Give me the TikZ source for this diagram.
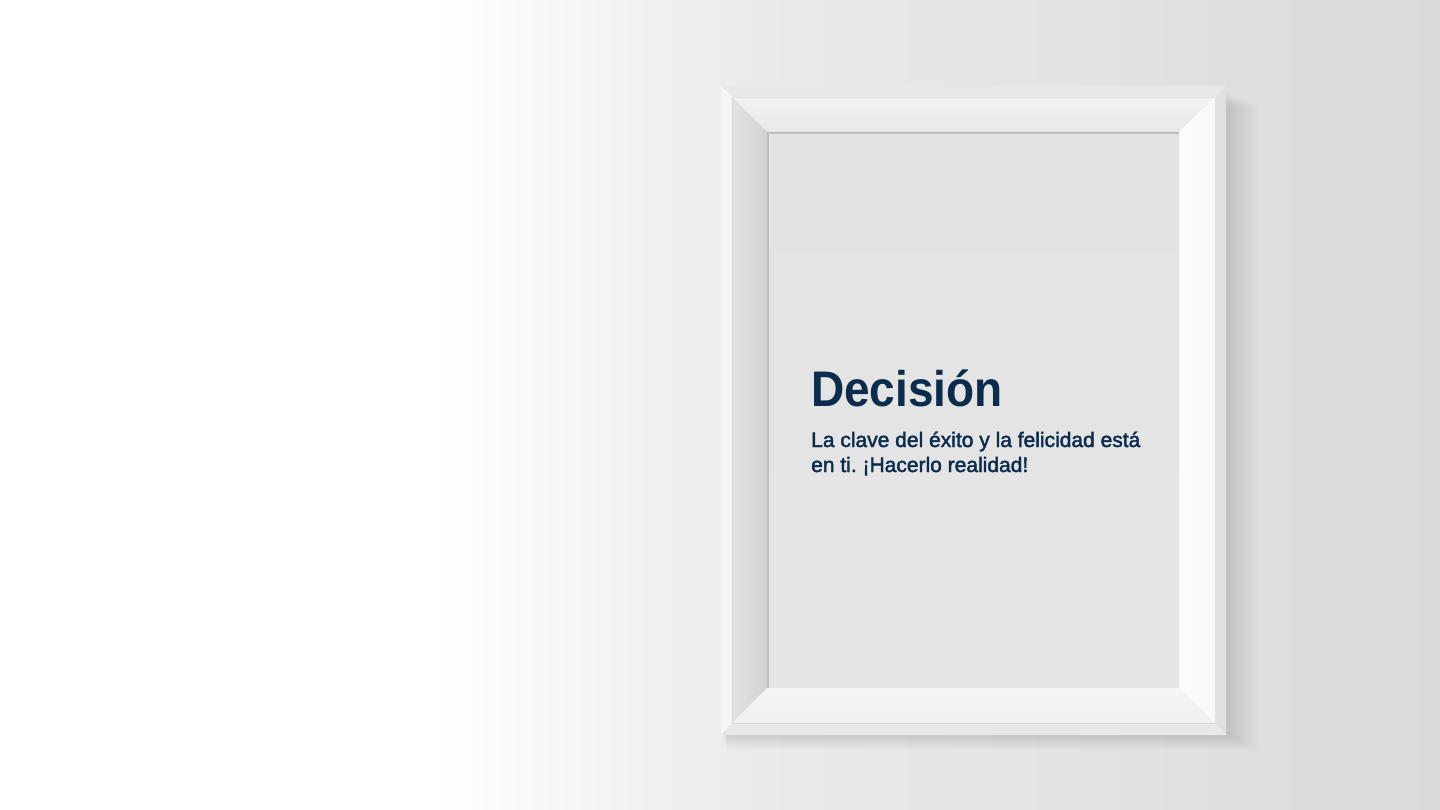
\documentclass[tikz,border=0pt]{standalone}
\usepackage{fontspec}
\setmainfont{Liberation Sans}
\newfontfamily\bodyfont[FakeBold=2]{Liberation Sans}
\definecolor{wallmid}{HTML}{EAEAEA}
\definecolor{wallright}{HTML}{DADADA}
\definecolor{ink}{HTML}{0B2C4C}
\tikzset{
  titletext/.style={text=ink, font=\fontsize{50}{50}\selectfont\bfseries, inner sep=0pt, anchor=base west, xscale=0.92},
  bodytext/.style={text=ink, font=\bodyfont\fontsize{21}{25}\selectfont\frenchspacing, inner sep=0pt, anchor=base west},
  edge/.style={line width=0.8pt},
  shadowlayer/.style={fill=black, fill opacity=0.005}
}
\begin{document}
\begin{tikzpicture}[x=1pt,y=-1pt]
\useasboundingbox (0,0) rectangle (1440,810);
% wall
\fill[white] (0,0) rectangle (431,810);
\shade[left color=white,right color=wallmid] (430,0) rectangle (760,810);
\shade[left color=wallmid,right color=wallright] (759,0) rectangle (1440,810);
% soft shadow of the frame
\foreach \i in {1,...,34}{
  \fill[shadowlayer] (722+0.15*\i,92+0.4*\i) rectangle (1224+1.0*\i,733+0.5*\i);
}
% frame body
\fill[white!93!black] (721,86) rectangle (1226,735);
% outer lip
\fill[white!91!black] (721,86) -- (1226,86) -- (1215,97) -- (732,97) -- cycle;
\fill[white!96!black] (721,86) -- (732,97) -- (732,723) -- (721,735) -- cycle;
\fill[white!88!black] (1226,86) -- (1226,735) -- (1215,723) -- (1215,97) -- cycle;
\fill[white!91!black] (721,735) -- (732,723) -- (1215,723) -- (1226,735) -- cycle;
% inner faces
\shade[top color=white!95!black,bottom color=white!91!black] (732,97) -- (1215,97) -- (1179,132) -- (767,132) -- cycle;
\shade[left color=white!89!black,right color=white!82!black] (732,97) -- (767,132) -- (767,688) -- (732,723) -- cycle;
\shade[left color=white!99!black,right color=white!97!black] (1215,97) -- (1215,723) -- (1179,688) -- (1179,132) -- cycle;
\shade[top color=white!96!black,bottom color=white!94!black] (732,723) -- (767,688) -- (1179,688) -- (1215,723) -- cycle;
% edge lines
\draw[edge, white!84!black] (732,97) -- (732,723);
\draw[edge, white!88!black] (732,97) -- (1215,97);
\draw[edge, white!86!black] (732,723) -- (1215,723);
% mat
\shade[top color=white!89!black,bottom color=white!90!black] (767,132) rectangle (1179,688);
\draw[line width=1.6pt, white!74!black] (767.8,688) -- (767.8,132.8) -- (1179,132.8);
\draw[line width=0.8pt, white!97!black] (767,688) -- (1179,688) -- (1179,132);
% text
\node[titletext] (title) at (811,406) {Decisión};
\node[bodytext] (line1) at (811,447) {La clave del éxito y la felicidad está};
\node[bodytext] (line2) at (811,472) {en ti. ¡Hacerlo realidad!};
\end{tikzpicture}
\end{document}
